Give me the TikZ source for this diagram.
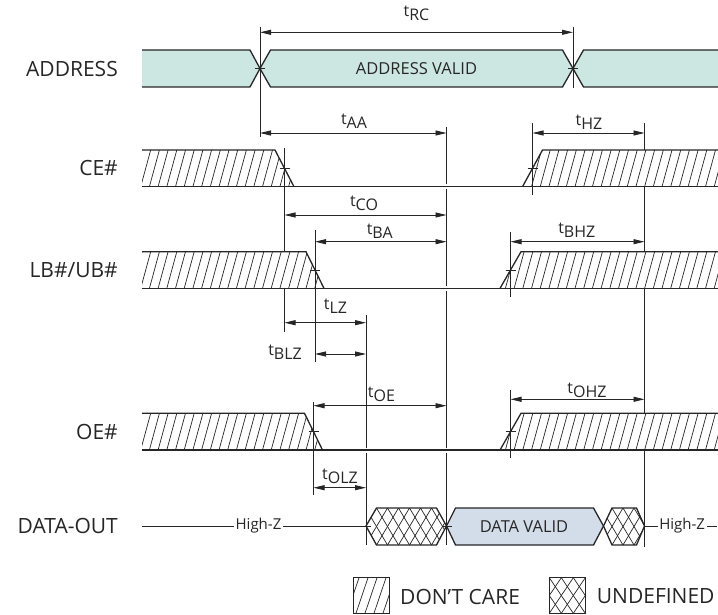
\documentclass[tikz,border=0pt]{standalone}
\usepackage{fontspec}
\setmainfont{Open Sans}
\usetikzlibrary{arrows.meta}
\definecolor{ink}{HTML}{262626}
\definecolor{addrfill}{HTML}{CCE6E2}
\definecolor{datafill}{HTML}{D3DDE9}
\newcommand{\tsub}[1]{t\raisebox{-4pt}{#1}}

\begin{document}
\begin{tikzpicture}[x=1pt,y=-1pt,color=ink,
  sig/.style={line width=1.3pt},
  refline/.style={line width=0.9pt},
  hatch/.style={line width=0.7pt},
  dim/.style={{Triangle[length=11pt,width=5pt]}-{Triangle[length=11pt,width=5pt]},line width=0.9pt},
  halo/.style={draw=white,line width=5pt},
  siglab/.style={anchor=east,inner sep=0pt,font=\fontsize{21}{24}\selectfont},
  inlab/.style={inner sep=0pt,font=\fontsize{16.5}{20}\selectfont},
  tlab/.style={inner sep=0pt,font=\fontsize{16}{19}\selectfont},
  hzlab/.style={fill=white,inner sep=1.5pt,font=\fontsize{15}{18}\selectfont}]
\useasboundingbox (0,0) rectangle (718,615);

% Signal names
\node[siglab] (addr) at (118,69) {ADDRESS};
\node[siglab] (ce) at (118,168.5) {CE\#};
\node[siglab] (lb) at (118,270) {LB\#/UB\#};
\node[siglab] (oe) at (118,431.5) {OE\#};
\node[siglab] (dout) at (118,526) {DATA-OUT};

% Long reference lines (broken by the signals later)
\draw[refline] (260,27) -- (260,137);
\draw[refline] (573,27) -- (573,88);
\draw[refline] (446.5,127) -- (446.5,545);
\draw[refline] (644.5,123) -- (644.5,546.5);
\draw[refline] (366,315) -- (366,545);

% Address bus
\fill[addrfill] (142,50) -- (250,50) -- (260,68.5) -- (250,87) -- (142,87) -- cycle;
\draw[sig] (142,50) -- (250,50) -- (260,68.5) -- (250,87) -- (142,87);
\draw[sig,fill=addrfill] (260,68.5) -- (270.5,50) -- (562.5,50) -- (573,68.5) -- (562.5,87) -- (270.5,87) -- cycle;
\fill[addrfill] (573,68.5) -- (583.5,50) -- (718,50) -- (718,87) -- (583.5,87) -- cycle;
\draw[sig] (718,50) -- (583.5,50) -- (573,68.5) -- (583.5,87) -- (718,87);
\node[inlab] (addrvalid) at (416.5,68.5) {ADDRESS VALID};
\draw[refline] (255,68.5) -- (265,68.5);
\draw[refline] (568,68.5) -- (578,68.5);

% CE#, LB#/UB# and OE# (top / falling edge / rising edge)
\foreach \t/\fa/\fb/\ra/\rb in {150/275/294/522.5/542.5, 251.7/306/324/500/521, 413.3/304.5/322.5/500/521}{
  \pgfmathsetmacro\b{\t+36.7}
  \begin{scope}
    \clip (142,\t) -- (\fa,\t) -- (\fb,\b) -- (142,\b) -- cycle;
    \fill[white] (142,\t) rectangle (\fb,\b);
    \foreach \x in {132,140.7,...,335} \draw[hatch] (\x,\b) -- ++(10,-36.7);
  \end{scope}
  \begin{scope}
    \clip (\ra,\b) -- (\rb,\t) -- (718,\t) -- (718,\b) -- cycle;
    \fill[white] (\ra,\t) rectangle (718,\b);
    \foreach \x in {488,496.7,...,720} \draw[hatch] (\x,\b) -- ++(10,-36.7);
  \end{scope}
  \draw[halo] (\fb,\b) -- (\ra,\b);
  \draw[sig] (142,\t) -- (\fa,\t) -- (\fb,\b);
  \draw[sig] (\ra,\b) -- (\rb,\t) -- (718,\t);
  \draw[sig] (142,\b) -- (718,\b);
}

% Edge markers
\draw[refline] (532.5,123) -- (532.5,195);
\draw[refline] (284.5,148) -- (284.5,251.7);
\draw[refline] (284.5,288.3) -- (284.5,331.5);
\draw[refline] (315,230) -- (315,361.5);
\draw[refline] (510.5,232) -- (510.5,296.5);
\draw[refline] (313.5,402) -- (313.5,495);
\draw[refline] (510.5,390) -- (510.5,458);
\foreach \x/\y in {284.5/168.35, 532.5/168.35, 315/270, 510.5/270, 313.5/431.65, 510.5/431.65}
  \draw[refline] (\x-5,\y) -- (\x+5,\y);

% Timing arrows
\foreach \n/\xa/\xb/\y in {rc/260/573/32.3, aa/260/446.5/133, hz/532.5/644.5/133,
    co/284.5/446.5/215, ba/315/446.5/241.7, bhz/510.5/644.5/241.7,
    lz/284.5/366/322.7, blz/315/366/354, oe/313.5/446.5/405.7,
    ohz/510.5/644.5/399.3, olz/313.5/366/487.7}{
  \coordinate (\n-l) at (\xa,\y);
  \coordinate (\n-r) at (\xb,\y);
  \draw[dim] (\n-l) -- (\n-r);
}

% Timing labels
\foreach \n/\x/\y in {RC/416.5/13.7, AA/354/121.7, HZ/589/122.5, CO/364/203.4,
    BA/379.7/231.3, BHZ/576.8/230, LZ/335.5/306.7, BLZ/285/352.5,
    OE/381.5/394, OHZ/587/390.5, OLZ/340/476.7}
  \node[tlab] (lab-\n) at (\x,\y) {\tsub{\n}};

% Data out
\coordinate (hz1-l) at (142,526);
\coordinate (hz1-r) at (366,526);
\coordinate (hz2-l) at (644.5,526);
\coordinate (hz2-r) at (717,526);
\draw[refline] (hz1-l) -- node[hzlab,pos=0.52] (highz1) {High-Z} (hz1-r);
\draw[refline] (hz2-l) -- node[hzlab,pos=0.52] (highz2) {High-Z} (hz2-r);
\begin{scope}
  \clip (366,526) -- (376.5,508) -- (436.5,508) -- (446.5,526) -- (436.5,545) -- (376.5,545) -- cycle;
  \fill[white] (366,508) rectangle (446.5,545);
  \foreach \x in {310.5,321.5,...,460} {
    \draw[hatch] (\x,545) -- ++(22,-37);
    \draw[hatch] (\x,508) -- ++(22,37);
  }
\end{scope}
\draw[sig] (366,526) -- (376.5,508) -- (436.5,508) -- (446.5,526) -- (436.5,545) -- (376.5,545) -- cycle;
\draw[sig,fill=datafill] (446.5,526) -- (455.5,508) -- (593.5,508) -- (603.5,526) -- (593.5,545) -- (455.5,545) -- cycle;
\node[inlab] (datavalid) at (524,526.5) {DATA VALID};
\begin{scope}
  \clip (603.5,526) -- (612,508) -- (636.5,508) -- (644.5,526) -- (636.5,545) -- (612,545) -- cycle;
  \fill[white] (603.5,508) rectangle (644.5,545);
  \foreach \x in {568,579,...,660} {
    \draw[hatch] (\x,545) -- ++(22,-37);
    \draw[hatch] (\x,508) -- ++(22,37);
  }
\end{scope}
\draw[sig] (603.5,526) -- (612,508) -- (636.5,508) -- (644.5,526) -- (636.5,545) -- (612,545) -- cycle;
\draw[refline] (361,526) -- (371,526);
\draw[refline] (441.5,526) -- (451.5,526);

% Legend
\begin{scope}
  \clip (353.3,577.7) rectangle (389.3,613.3);
  \foreach \x in {338,347,...,395} \draw[hatch] (\x,613.3) -- ++(12,-35.6);
\end{scope}
\draw[sig] (353.3,577.7) rectangle (389.3,613.3);
\node[siglab,anchor=west] (dontcare) at (400,596.5) {DON’T CARE};
\begin{scope}
  \clip (549.3,577.7) rectangle (585.7,613.3);
  \foreach \x in {513.3,525.3,...,600} {
    \draw[hatch] (\x,613.3) -- ++(24,-35.6);
    \draw[hatch] (\x,577.7) -- ++(24,35.6);
  }
\end{scope}
\draw[sig] (549.3,577.7) rectangle (585.7,613.3);
\node[siglab,anchor=west] (undefined) at (596.7,596.5) {UNDEFINED};

\end{tikzpicture}
\end{document}
